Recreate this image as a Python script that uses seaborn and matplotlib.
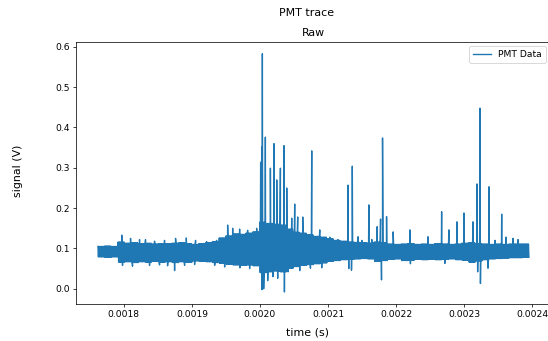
"""
PMT trace - raw signal from the photomultiplier, redrawn as a seaborn line plot.
"""

import numpy as np
import pandas as pd
import seaborn as sns
import matplotlib
matplotlib.use('Agg')
import matplotlib.pyplot as plt

# time span of the recorded trace (s)
t_start = 0.001762
t_end = 0.002395

# upper / lower edge of the noise band, one value per 10 us bin (V)
band_hi = [0.105, 0.106, 0.105, 0.116, 0.113, 0.114, 0.112, 0.113,
           0.111, 0.112, 0.112, 0.113, 0.114, 0.112, 0.110, 0.112,
           0.114, 0.117, 0.126, 0.131, 0.136, 0.135, 0.138, 0.141,
           0.165, 0.162, 0.160, 0.158, 0.148, 0.140, 0.138, 0.134,
           0.130, 0.128, 0.124, 0.120, 0.118, 0.116, 0.115, 0.114,
           0.113, 0.116, 0.114, 0.111, 0.110, 0.111, 0.112, 0.110,
           0.111, 0.110, 0.112, 0.111, 0.110, 0.111, 0.113, 0.114,
           0.112, 0.111, 0.110, 0.111, 0.110, 0.111, 0.111, 0.111]
band_lo = [0.079, 0.078, 0.079, 0.066, 0.067, 0.065, 0.067, 0.066,
           0.068, 0.066, 0.067, 0.065, 0.067, 0.066, 0.069, 0.068,
           0.067, 0.065, 0.063, 0.061, 0.059, 0.058, 0.059, 0.057,
           0.040, 0.042, 0.044, 0.042, 0.051, 0.055, 0.058, 0.060,
           0.062, 0.064, 0.068, 0.070, 0.072, 0.073, 0.074, 0.075,
           0.074, 0.068, 0.070, 0.073, 0.074, 0.070, 0.071, 0.073,
           0.072, 0.073, 0.072, 0.073, 0.074, 0.072, 0.071, 0.066,
           0.069, 0.072, 0.074, 0.075, 0.076, 0.077, 0.077, 0.078]

# single-sample pulses above the band
spike_t = [0.0017970, 0.0018099, 0.0018231, 0.0018319, 0.0018451,
           0.0018598, 0.0018760, 0.0018918, 0.0019054, 0.0019216,
           0.0019363, 0.0019525, 0.0019599, 0.0019701, 0.0019819,
           0.0019951, 0.0020010, 0.0020025, 0.0020035, 0.0020079,
           0.0020153, 0.0020206, 0.0020246, 0.0020300, 0.0020353,
           0.0020393, 0.0020466, 0.0020510, 0.0020554, 0.0020628,
           0.0020760, 0.0020878, 0.0021025, 0.0021143, 0.0021294,
           0.0021356, 0.0021441, 0.0021496, 0.0021599, 0.0021643,
           0.0021721, 0.0021771, 0.0021800, 0.0021859, 0.0021956,
           0.0022201, 0.0022466, 0.0022668, 0.0022775, 0.0022893,
           0.0022996, 0.0023128, 0.0023187, 0.0023231, 0.0023363,
           0.0023451, 0.0023550, 0.0023613, 0.0023716, 0.0023790]
spike_v = [0.133, 0.125, 0.122, 0.122, 0.118,
           0.120, 0.125, 0.126, 0.120, 0.117,
           0.120, 0.158, 0.150, 0.148, 0.145,
           0.150, 0.314, 0.352, 0.583, 0.376,
           0.299, 0.360, 0.270, 0.299, 0.355,
           0.250, 0.175, 0.210, 0.178, 0.178,
           0.342, 0.146, 0.128, 0.122, 0.257,
           0.304, 0.129, 0.120, 0.208, 0.122,
           0.154, 0.173, 0.374, 0.179, 0.141,
           0.146, 0.129, 0.191, 0.146, 0.166,
           0.188, 0.166, 0.260, 0.448, 0.253,
           0.120, 0.185, 0.128, 0.125, 0.122]

# single-sample dips below the band
dip_t = [0.0017981, 0.0018128, 0.0018378, 0.0018525, 0.0018643,
         0.0018746, 0.0018893, 0.0019040, 0.0019334, 0.0019481,
         0.0019705, 0.0019848, 0.0020030, 0.0020054, 0.0020113,
         0.0020191, 0.0020260, 0.0020359, 0.0020412, 0.0020584,
         0.0020741, 0.0020907, 0.0021304, 0.0021344, 0.0021785,
         0.0022210, 0.0022716, 0.0023197, 0.0023238, 0.0023349]
dip_v = [0.058, 0.056, 0.058, 0.059, 0.057,
         0.045, 0.058, 0.060, 0.058, 0.054,
         0.052, 0.050, -0.002, 0.000, 0.020,
         0.030, 0.026, -0.008, 0.042, 0.045,
         0.051, 0.052, 0.050, 0.046, 0.022,
         0.062, 0.063, 0.042, 0.013, 0.051]


def build_trace():
    # the band is drawn as samples swinging between the two edges of each bin
    per_bin = 14
    n = len(band_hi) * per_bin
    t = np.linspace(t_start, t_end, n)
    idx = np.arange(n)
    b = idx // per_bin
    v = np.where(idx % 2 == 0, np.array(band_hi)[b], np.array(band_lo)[b])
    df = pd.DataFrame({
        'time': np.concatenate([t, spike_t, dip_t]),
        'signal': np.concatenate([v, spike_v, dip_v]),
    })
    return df.sort_values('time').reset_index(drop=True)


def main():
    trace = build_trace()

    fig = plt.figure(figsize=(548 / 66, 341 / 66), dpi=66)
    ax = fig.add_axes([0.1394, 0.1088, 0.8651, 0.7686])

    sns.lineplot(data=trace, x='time', y='signal', ax=ax, estimator=None,
                 color='#1f77b4', linewidth=1.5, label='PMT Data')

    ax.set_title('Raw')
    ax.set_xlabel('')
    ax.set_ylabel('')
    ax.legend(loc='upper right')

    fig.suptitle('PMT trace', x=307 / 548, y=0.978)
    fig.supxlabel('time (s)', x=307 / 548, y=0.026, va='center')
    fig.supylabel('signal (V)', x=0.032, ha='center')

    fig.savefig('out.png', dpi=66)


if __name__ == '__main__':
    main()
